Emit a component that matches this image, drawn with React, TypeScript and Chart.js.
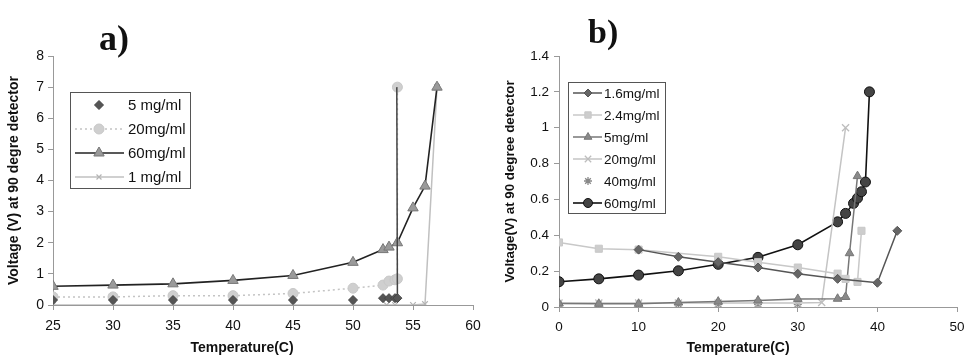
import React, { useEffect, useRef } from 'react';
import { Chart, registerables } from 'chart.js';
import { drawPoint } from 'chart.js/helpers';
Chart.register(...registerables);

// ---------- Panel a) data ----------
const aTicksX = { min: 25, max: 60, step: 5 };
const aTicksY = { min: 0, max: 8, step: 1 };
const a5X = [25, 30, 35, 40, 45, 50, 52.5, 53, 53.5, 53.7, 53.65];
const a5Y = [0.16, 0.16, 0.16, 0.16, 0.16, 0.16, 0.22, 0.22, 0.22, 0.22, 7];
const a20X = [25, 30, 35, 40, 45, 50, 52.5, 53, 53.5, 53.7, 53.7];
const a20Y = [0.26, 0.26, 0.3, 0.3, 0.37, 0.54, 0.64, 0.77, 0.81, 0.84, 7];
const a60X = [25, 30, 35, 40, 45, 50, 52.5, 53, 53.7, 55, 56, 57];
const a60Y = [0.6, 0.64, 0.68, 0.79, 0.95, 1.37, 1.78, 1.86, 2.0, 3.12, 3.82, 7];
const a1X = [25, 30, 35, 40, 45, 50, 52.8, 53.5, 55, 56, 57];
const a1Y = [0, 0, 0, 0, 0, 0, 0, 0, 0, 0.03, 7];

// ---------- Panel b) data ----------
const bTicksX = { min: 0, max: 50, step: 10 };
const bTicksY = { min: 0, max: 1.4, step: 0.2 };
const b16X = [10, 15, 20, 25, 30, 35, 40, 42.5];
const b16Y = [0.32, 0.28, 0.25, 0.22, 0.185, 0.157, 0.135, 0.425];
const b24X = [0, 5, 10, 20, 25, 30, 35, 36, 37.5, 38];
const b24Y = [0.36, 0.325, 0.32, 0.28, 0.25, 0.22, 0.186, 0.157, 0.14, 0.425];
const b5X = [0, 5, 10, 15, 20, 25, 30, 35, 36, 36.5, 37.5];
const b5Y = [0.02, 0.018, 0.018, 0.025, 0.03, 0.036, 0.045, 0.046, 0.056, 0.3, 0.73];
const b20X = [0, 5, 10, 15, 20, 25, 30, 33, 36];
const b20Y = [0.022, 0.022, 0.022, 0.022, 0.022, 0.022, 0.022, 0.025, 1.0];
const b40X = [0, 5, 10, 15, 20, 25, 30];
const b40Y = [0.015, 0.015, 0.015, 0.015, 0.015, 0.015, 0.015];
const b60X = [0, 5, 10, 15, 20, 25, 30, 35, 36, 37, 37.5, 38, 38.5, 39];
const b60Y = [0.141, 0.157, 0.178, 0.202, 0.238, 0.277, 0.347, 0.475, 0.522, 0.578, 0.607, 0.643, 0.697, 1.2];

const toPts = (xs: number[], ys: number[]) => xs.map((x, i) => ({ x, y: ys[i] }));

const FONT = '"Liberation Sans", Arial, sans-serif';

const boxLegend = {
  id: 'boxLegend',
  afterDraw(chart: any, _a: any, o: any) {
    const { ctx } = chart;
    ctx.save();
    ctx.fillStyle = '#fff';
    ctx.fillRect(o.x, o.y, o.w, o.h);
    ctx.strokeStyle = '#555';
    ctx.lineWidth = 1;
    ctx.setLineDash([]);
    ctx.strokeRect(o.x + 0.5, o.y + 0.5, o.w, o.h);
    chart.data.datasets.forEach((ds: any, i: number) => {
      const y = o.y + o.first + i * o.gap;
      if (ds.legendLine !== false) {
        ctx.save();
        ctx.strokeStyle = ds.borderColor;
        ctx.lineWidth = ds.borderWidth;
        ctx.setLineDash(ds.borderDash || []);
        ctx.beginPath();
        ctx.moveTo(o.lineX0, y);
        ctx.lineTo(o.lineX1, y);
        ctx.stroke();
        ctx.restore();
      }
      ctx.save();
      ctx.setLineDash([]);
      ctx.fillStyle = ds.pointBackgroundColor;
      ctx.strokeStyle = ds.pointBorderColor;
      ctx.lineWidth = ds.pointBorderWidth;
      drawPoint(ctx, { pointStyle: ds.pointStyle, radius: ds.legendRadius, borderWidth: ds.pointBorderWidth, rotation: 0 }, o.markX, y);
      ctx.restore();
      ctx.fillStyle = '#111';
      ctx.font = `${o.fontSize}px ${FONT}`;
      ctx.textAlign = 'left';
      ctx.textBaseline = 'middle';
      ctx.fillText(ds.label, o.textX, y + 1);
    });
    ctx.restore();
  },
};

const annot = {
  id: 'annot',
  afterDraw(chart: any, _a: any, o: any) {
    const { ctx } = chart;
    ctx.save();
    ctx.fillStyle = '#111';
    ctx.font = `bold ${o.labelSize}px "Liberation Serif", "Times New Roman", serif`;
    ctx.textAlign = 'left';
    ctx.textBaseline = 'alphabetic';
    ctx.fillText(o.label, o.labelX, o.labelY);
    ctx.font = `bold 14px ${FONT}`;
    ctx.textAlign = 'center';
    ctx.textBaseline = 'middle';
    ctx.fillText(o.xTitle, o.xTitleX, o.xTitleY);
    ctx.restore();
  },
};

const fmt = (v: any) => String(Math.round(Number(v) * 100) / 100);

function makeScales(tx: any, ty: any, yTitle: string, p: any) {
  return {
    x: {
      type: 'linear',
      min: tx.min,
      max: tx.max,
      afterFit: (s: any) => { s.height = p.xH; s.paddingLeft = 0; s.paddingRight = 0; },
      ticks: { stepSize: tx.step, color: '#111', padding: p.xPad, font: { family: FONT, size: p.tickSize }, callback: fmt },
      grid: { display: true, drawOnChartArea: false, drawTicks: true, tickLength: 5, color: '#999' },
      border: { color: '#999', width: 1 },
    },
    y: {
      type: 'linear',
      min: ty.min,
      max: ty.max,
      afterFit: (s: any) => { s.width = p.yW; },
      ticks: { stepSize: ty.step, color: '#111', padding: p.yPad, font: { family: FONT, size: p.tickSize }, callback: fmt },
      grid: { display: true, drawOnChartArea: false, drawTicks: true, tickLength: 5, color: '#999' },
      border: { color: '#999', width: 1 },
      title: { display: true, text: yTitle, color: '#111', padding: { top: p.yTitlePad, bottom: 0 }, font: { family: FONT, size: p.yTitleSize, weight: 'bold' } },
    },
  };
}

function ChartA() {
  const ref = useRef<HTMLCanvasElement>(null);
  useEffect(() => {
    const n5 = a5X.length;
    const chart = new Chart(ref.current as HTMLCanvasElement, {
      type: 'scatter',
      data: {
        datasets: [
          {
            label: '5 mg/ml', data: toPts(a5X, a5Y), showLine: true, legendLine: false,
            borderColor: '#444', borderWidth: 1.5,
            segment: { borderColor: (c: any) => (c.p1DataIndex === n5 - 1 ? '#444' : 'rgba(0,0,0,0)') },
            pointStyle: 'rectRot', pointRadius: a5X.map((_, i) => (i === n5 - 1 ? 0 : 4.5)), legendRadius: 4.5,
            pointBackgroundColor: '#555', pointBorderColor: '#444', pointBorderWidth: 1,
          } as any,
          {
            label: '20mg/ml', data: toPts(a20X, a20Y), showLine: true,
            borderColor: '#c4c4c4', borderWidth: 1.5, borderDash: [2, 3],
            pointStyle: 'circle', pointRadius: 5, legendRadius: 5,
            pointBackgroundColor: '#cfcfcf', pointBorderColor: '#c8c8c8', pointBorderWidth: 1,
          } as any,
          {
            label: '60mg/ml', data: toPts(a60X, a60Y), showLine: true,
            borderColor: '#222', borderWidth: 1.6,
            pointStyle: 'triangle', pointRadius: 6, legendRadius: 6,
            pointBackgroundColor: '#9a9a9a', pointBorderColor: '#777', pointBorderWidth: 1,
          } as any,
          {
            label: '1 mg/ml', data: toPts(a1X, a1Y), showLine: true,
            borderColor: '#c0c0c0', borderWidth: 1.5,
            pointStyle: 'crossRot', pointRadius: 4, legendRadius: 3.5,
            pointBackgroundColor: '#bbb', pointBorderColor: '#b4b4b4', pointBorderWidth: 1.2,
          } as any,
        ],
      },
      options: {
        responsive: false,
        animation: false,
        layout: { padding: { left: 0, right: 9, top: 56, bottom: 0 } },
        scales: makeScales(aTicksX, aTicksY, 'Voltage (V) at 90 degre detector', {
          xH: 52, yW: 53, xPad: 8, yPad: 4, tickSize: 14, yTitleSize: 14, yTitlePad: 5.5,
        }) as any,
        plugins: {
          legend: { display: false },
          tooltip: { enabled: false },
          boxLegend: { x: 70, y: 92, w: 120, h: 96, first: 13, gap: 24, lineX0: 75, lineX1: 124, markX: 99, textX: 128, fontSize: 15 },
          annot: { label: 'a)', labelSize: 36, labelX: 99, labelY: 50, xTitle: 'Temperature(C)', xTitleX: 242, xTitleY: 348 },
        } as any,
      },
      plugins: [boxLegend, annot],
    } as any);
    return () => chart.destroy();
  }, []);
  return <canvas ref={ref} width={482} height={357} style={{ display: 'block', width: 482, height: 357 }} />;
}

function ChartB() {
  const ref = useRef<HTMLCanvasElement>(null);
  useEffect(() => {
    const chart = new Chart(ref.current as HTMLCanvasElement, {
      type: 'scatter',
      data: {
        datasets: [
          {
            label: '1.6mg/ml', data: toPts(b16X, b16Y), showLine: true,
            borderColor: '#555', borderWidth: 1.5,
            pointStyle: 'rectRot', pointRadius: 4.5, legendRadius: 4,
            pointBackgroundColor: '#666', pointBorderColor: '#555', pointBorderWidth: 1,
          } as any,
          {
            label: '2.4mg/ml', data: toPts(b24X, b24Y), showLine: true,
            borderColor: '#c8c8c8', borderWidth: 1.5,
            pointStyle: 'rect', pointRadius: 5, legendRadius: 4.5,
            pointBackgroundColor: '#cdcdcd', pointBorderColor: '#c8c8c8', pointBorderWidth: 1,
          } as any,
          {
            label: '5mg/ml', data: toPts(b5X, b5Y), showLine: true,
            borderColor: '#777', borderWidth: 1.5,
            pointStyle: 'triangle', pointRadius: 5, legendRadius: 4.5,
            pointBackgroundColor: '#8a8a8a', pointBorderColor: '#777', pointBorderWidth: 1,
          } as any,
          {
            label: '20mg/ml', data: toPts(b20X, b20Y), showLine: true,
            borderColor: '#c4c4c4', borderWidth: 1.5,
            pointStyle: 'crossRot', pointRadius: 5, legendRadius: 4.5,
            pointBackgroundColor: '#bbb', pointBorderColor: '#bdbdbd', pointBorderWidth: 1.3,
          } as any,
          {
            label: '40mg/ml', data: toPts(b40X, b40Y), showLine: false, legendLine: false,
            borderColor: '#888', borderWidth: 1,
            pointStyle: 'star', pointRadius: 4, legendRadius: 4,
            pointBackgroundColor: '#888', pointBorderColor: '#888', pointBorderWidth: 1.3,
          } as any,
          {
            label: '60mg/ml', data: toPts(b60X, b60Y), showLine: true,
            borderColor: '#111', borderWidth: 1.6,
            pointStyle: 'circle', pointRadius: 5, legendRadius: 4.5,
            pointBackgroundColor: '#444', pointBorderColor: '#111', pointBorderWidth: 1,
          } as any,
        ],
      },
      options: {
        responsive: false,
        animation: false,
        layout: { padding: { left: 0, right: 7, top: 56, bottom: 0 } },
        scales: makeScales(bTicksX, bTicksY, 'Voltage(V) at 90 degree detector', {
          xH: 50, yW: 77, xPad: 7, yPad: 5, tickSize: 13.5, yTitleSize: 13.3, yTitlePad: 20.5,
        }) as any,
        plugins: {
          legend: { display: false },
          tooltip: { enabled: false },
          boxLegend: { x: 86, y: 82, w: 97, h: 131, first: 11, gap: 22, lineX0: 91, lineX1: 120, markX: 106, textX: 122, fontSize: 13.5 },
          annot: { label: 'b)', labelSize: 34, labelX: 106, labelY: 43, xTitle: 'Temperature(C)', xTitleX: 256, xTitleY: 348 },
        } as any,
      },
      plugins: [boxLegend, annot],
    } as any);
    return () => chart.destroy();
  }, []);
  return <canvas ref={ref} width={482} height={357} style={{ display: 'block', width: 482, height: 357 }} />;
}

export default function App() {
  return (
    <div style={{ position: 'absolute', left: 0, top: 0, width: 964, height: 357, display: 'flex', background: '#fff' }}>
      <ChartA />
      <ChartB />
    </div>
  );
}
